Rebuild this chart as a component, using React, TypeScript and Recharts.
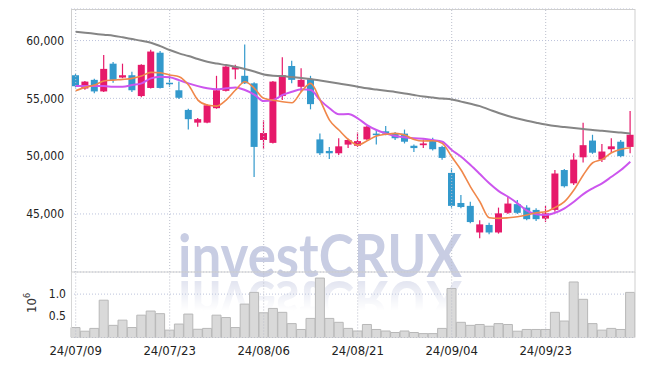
import React from 'react';
import { ComposedChart, Bar, Line, XAxis, YAxis, CartesianGrid, ReferenceLine } from 'recharts';

const dates = [
  '24/07/09', '24/07/10', '24/07/11', '24/07/12', '24/07/15', '24/07/16', '24/07/17', '24/07/18', '24/07/19', '24/07/22',
  '24/07/23', '24/07/24', '24/07/25', '24/07/26', '24/07/29', '24/07/30', '24/07/31', '24/08/01', '24/08/02', '24/08/05',
  '24/08/06', '24/08/07', '24/08/08', '24/08/09', '24/08/12', '24/08/13', '24/08/14', '24/08/16', '24/08/19', '24/08/20',
  '24/08/21', '24/08/22', '24/08/23', '24/08/26', '24/08/27', '24/08/28', '24/08/29', '24/08/30', '24/09/02', '24/09/03',
  '24/09/04', '24/09/05', '24/09/06', '24/09/09', '24/09/10', '24/09/11', '24/09/12', '24/09/13', '24/09/19', '24/09/20',
  '24/09/23', '24/09/24', '24/09/25', '24/09/26', '24/09/27', '24/09/30', '24/10/02', '24/10/04', '24/10/07', '24/10/08',
];

const opens = [
  57000, 55850, 56600, 55600, 58000, 56800, 57000, 55200, 55900, 58950,
  56350, 55700, 54000, 52900, 52900, 54150, 55650, 57500, 56950, 56300,
  51400, 51150, 55200, 57800, 56000, 56650, 51450, 50450, 50250, 51000,
  50900, 51450, 51950, 52150, 51950, 51950, 50900, 50950, 51400, 50800,
  48550, 45950, 45700, 43400, 44050, 43400, 45100, 45850, 45550, 45350,
  44600, 45350, 48800, 47650, 49900, 51350, 49700, 50600, 51250, 50800,
];
const highs = [
  57100, 56500, 56700, 58750, 58150, 58000, 57300, 57950, 59200, 59100,
  57000, 56450, 54100, 53300, 54500, 56950, 57800, 57900, 59650, 56400,
  53100, 56500, 58550, 58250, 57600, 56950, 51950, 50800, 51550, 51500,
  52050, 52600, 52300, 52600, 52100, 52300, 51000, 51450, 51600, 50900,
  48950, 46650, 46050, 44450, 44250, 45550, 46500, 46200, 45750, 45500,
  45700, 48800, 48900, 50250, 52900, 51850, 51050, 51550, 51400, 53900,
];
const lows = [
  55950, 55750, 55450, 55550, 56350, 56750, 55550, 55100, 55850, 55850,
  56000, 54950, 52300, 52550, 52850, 54100, 55600, 56650, 56250, 48200,
  50600, 51100, 54850, 56300, 55550, 54050, 50100, 49750, 50100, 50700,
  50800, 51400, 51000, 51800, 51400, 51100, 50350, 50700, 50500, 49700,
  45550, 45500, 44200, 42900, 43250, 43300, 45000, 45000, 44450, 44400,
  44300, 45200, 47300, 47500, 49450, 50200, 49500, 50300, 49900, 50250,
];
const closes = [
  56050, 56450, 55600, 57550, 56600, 57000, 55700, 57900, 59050, 55900,
  56300, 55050, 53200, 53200, 54400, 55700, 57750, 57700, 56300, 50800,
  52000, 56450, 57000, 56600, 56600, 54500, 50250, 50250, 50850, 51400,
  51300, 52550, 51850, 51950, 51550, 51250, 50700, 51100, 50600, 49850,
  45700, 45600, 44300, 44100, 43400, 45050, 45900, 45100, 44550, 44550,
  45050, 48500, 47400, 49700, 50950, 50300, 50400, 50850, 50000, 51850,
];

// moving averages
const ma5 = [
  55660, 55950, 56150, 56500, 56580, 56640, 56730, 56930, 57250, 57220,
  57020, 56870, 56150, 54850, 54420, 54330, 54850, 55720, 56440, 55870,
  55000, 54850, 54710, 54620, 55570, 56300, 54850, 53120, 52260, 51450,
  50960, 51330, 51740, 51890, 51970, 51830, 51450, 51310, 51330, 51110,
  49950, 48800, 47350, 46060, 44670, 44620, 44670, 44760, 44910, 45100,
  45190, 45570, 46060, 47070, 48370, 49430, 49720, 50300, 50590, 50730,
];
const ma20 = [
  56060, 56060, 56060, 56060, 56000, 56000, 56150, 56300, 56730, 56870,
  56820, 56580, 56300, 56060, 55870, 55780, 55870, 55950, 55720, 55330,
  54770, 54850, 55290, 55570, 55780, 55720, 54850, 54140, 53620, 53640,
  53270, 52690, 52260, 51970, 51740, 51630, 51540, 51500, 51390, 51250,
  50530, 49950, 49230, 48450, 47650, 46980, 46490, 45920, 45280, 44970,
  44910, 45100, 45490, 46060, 46720, 47220, 47650, 48220, 48800, 49520,
];
const ma60 = [
  60760, 60680, 60590, 60500, 60420, 60280, 60130, 59980, 59810, 59520,
  59180, 58890, 58660, 58400, 58170, 58010, 57880, 57730, 57540, 57320,
  57060, 56960, 56930, 56840, 56760, 56670, 56540, 56410, 56280, 56150,
  56010, 55870, 55760, 55650, 55550, 55430, 55290, 55160, 55070, 54980,
  54910, 54720, 54530, 54330, 54030, 53730, 53470, 53250, 53060, 52890,
  52730, 52600, 52520, 52430, 52350, 52260, 52190, 52110, 52040, 51970,
];

const volumes = [
  230000, 145000, 210000, 860000, 280000, 400000, 230000, 515000, 610000, 550000,
  170000, 310000, 540000, 190000, 210000, 515000, 460000, 230000, 770000, 1040000,
  570000, 670000, 580000, 320000, 185000, 440000, 1370000, 440000, 350000, 210000,
  150000, 300000, 185000, 150000, 115000, 150000, 115000, 90000, 90000, 210000,
  1130000, 350000, 280000, 300000, 260000, 320000, 300000, 145000, 185000, 185000,
  185000, 580000, 380000, 1280000, 880000, 320000, 170000, 210000, 185000, 1040000,
];

const priceTicks = [45000, 50000, 55000, 60000];
const volumeTicks = [500000, 1000000];
const gridDates = ['24/07/09', '24/07/23', '24/08/06', '24/08/21', '24/09/04', '24/09/23'];

const rows = dates.map((date, i) => ({
  date,
  open: opens[i],
  high: highs[i],
  low: lows[i],
  close: closes[i],
  ma5: ma5[i],
  ma20: ma20[i],
  ma60: ma60[i],
  volume: volumes[i],
}));

const UP = '#e6196a';
const DOWN = '#3399cc';
const FONT = '"DejaVu Sans Condensed", "DejaVu Sans", sans-serif';

const Candle = (props: any) => {
  const { x, y, width, height, payload } = props;
  const { open, close, high, low } = payload;
  const toY = (v: number) => y + ((high - v) / (high - low)) * height;
  const cx = x + width / 2;
  const color = close >= open ? UP : DOWN;
  const top = toY(Math.max(open, close));
  const bot = toY(Math.min(open, close));
  const bw = 7;
  return (
    <g>
      <line x1={cx} x2={cx} y1={y} y2={y + height} stroke={color} strokeWidth={1.2} />
      <rect x={cx - bw / 2} y={top} width={bw} height={Math.max(1.5, bot - top)} fill={color} />
    </g>
  );
};

const Watermark = () => (
  <svg width={645} height={366} style={{ position: 'absolute', left: 0, top: 0 }}>
    <defs>
      <linearGradient id="fade" x1="0" y1="0" x2="0" y2="1">
        <stop offset="0" stopColor="#fff" stopOpacity={0.55} />
        <stop offset="1" stopColor="#fff" stopOpacity={0} />
      </linearGradient>
      <mask id="reflect">
        <rect x={0} y={279} width={645} height={32} fill="url(#fade)" />
      </mask>
    </defs>
    <text x={178} y={277} textLength={284} lengthAdjust="spacingAndGlyphs" fontFamily="Lato, sans-serif" fontWeight={700} fontSize={60} fill="#c8cde3">
      investCRUX
    </text>
    <g mask="url(#reflect)">
      <g transform="translate(0,558) scale(1,-1)">
        <text x={178} y={277} textLength={284} lengthAdjust="spacingAndGlyphs" fontFamily="Lato, sans-serif" fontWeight={700} fontSize={60} fill="#c8cde3">
          investCRUX
        </text>
      </g>
    </g>
  </svg>
);

const Frame = () => (
  <svg width={645} height={366} style={{ position: 'absolute', left: 0, top: 0, pointerEvents: 'none' }}>
    <rect x={71.5} y={9.5} width={563.5} height={262.5} fill="none" stroke="#cfcfcf" />
    <line x1={71.5} x2={71.5} y1={272} y2={337.5} stroke="#d6d6d6" />
    <line x1={635} x2={635} y1={272} y2={337.5} stroke="#cfcfcf" />
    <text transform="translate(36,313) rotate(-90)" fontFamily={FONT} fontSize={13} fill="#333">
      10<tspan dy={-6} fontSize={9}>6</tspan>
    </text>
  </svg>
);

export default function App() {
  return (
    <div style={{ position: 'absolute', left: 0, top: 0, width: 645, height: 366, background: '#fff', overflow: 'hidden' }}>
      <Watermark />
      <div style={{ position: 'absolute', left: 0, top: 0 }}>
        <ComposedChart width={645} height={272} data={rows} margin={{ top: 9, right: 10, left: 0, bottom: 0 }} barCategoryGap={0}>
          <CartesianGrid vertical={false} stroke="#bcc3dc" strokeDasharray="1 2" />
          <XAxis dataKey="date" hide />
          <YAxis
            domain={[39980, 62730]}
            ticks={priceTicks}
            allowDataOverflow
            width={71}
            axisLine={false}
            tickLine={false}
            tickSize={0}
            tickMargin={7}
            tick={{ fontFamily: FONT, fontSize: 12, fill: '#222' }}
            tickFormatter={(v: number) => v.toLocaleString('en-US')}
          />
          {gridDates.map((d) => (
            <ReferenceLine key={d} x={d} stroke="#bcbfcc" strokeDasharray="1 2" />
          ))}
          <Bar dataKey={(r: any) => [r.low, r.high]} shape={Candle} isAnimationActive={false} />
          <Line type="monotone" dataKey="ma60" stroke="#858585" strokeWidth={2} dot={false} isAnimationActive={false} />
          <Line type="monotone" dataKey="ma20" stroke="#cc55ee" strokeWidth={2} dot={false} isAnimationActive={false} />
          <Line type="monotone" dataKey="ma5" stroke="#f0874a" strokeWidth={1.6} dot={false} isAnimationActive={false} />
        </ComposedChart>
      </div>
      <div style={{ position: 'absolute', left: 0, top: 272 }}>
        <ComposedChart width={645} height={94} data={rows} margin={{ top: 0, right: 10, left: 0, bottom: 0 }} barCategoryGap={0} barGap={0}>
          <CartesianGrid vertical={false} stroke="#bcc3dc" strokeDasharray="1 2" />
          <XAxis
            dataKey="date"
            interval={9}
            height={28.5}
            axisLine={false}
            tickLine={false}
            tick={{ fontFamily: FONT, fontSize: 13, fill: '#222' }}
          />
          <YAxis
            domain={[0, 1510000]}
            ticks={volumeTicks}
            allowDataOverflow
            width={71}
            axisLine={false}
            tickLine={false}
            tickSize={0}
            tickMargin={5}
            tick={{ fontFamily: FONT, fontSize: 12, fill: '#222' }}
            tickFormatter={(v: number) => (v / 1000000).toFixed(1)}
          />
          {gridDates.map((d) => (
            <ReferenceLine key={d} x={d} stroke="#bcbfcc" strokeDasharray="1 2" />
          ))}
          <Bar dataKey="volume" fill="#d9d9d9" stroke="#b8b8b8" strokeWidth={1} isAnimationActive={false} />
        </ComposedChart>
      </div>
      <Frame />
    </div>
  );
}
